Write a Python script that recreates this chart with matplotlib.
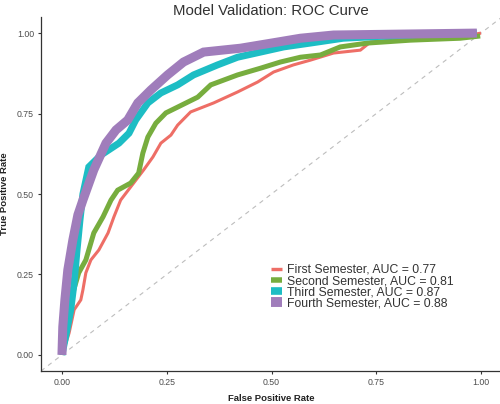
import matplotlib
matplotlib.use("Agg")
import matplotlib.pyplot as plt
from matplotlib.lines import Line2D

# ---- data ----
series_names = ["First Semester", "Second Semester", "Third Semester", "Fourth Semester"]
auc_values = [0.77, 0.81, 0.87, 0.88]

fpr_first = [0.0, 0.012, 0.017, 0.029, 0.045, 0.05, 0.057, 0.069, 0.088, 0.11, 0.124, 0.14,
             0.164, 0.195, 0.217, 0.236, 0.26, 0.276, 0.307, 0.362, 0.419, 0.467, 0.505,
             0.552, 0.593, 0.648, 0.712, 0.736, 0.83, 0.974, 1.0]
tpr_first = [0.0, 0.047, 0.068, 0.14, 0.171, 0.202, 0.255, 0.295, 0.326, 0.379, 0.429, 0.481,
             0.522, 0.575, 0.615, 0.658, 0.683, 0.714, 0.755, 0.783, 0.817, 0.848, 0.879,
             0.901, 0.916, 0.938, 0.947, 0.972, 0.984, 0.994, 1.0]

fpr_second = [0.0, 0.007, 0.021, 0.033, 0.04, 0.057, 0.076, 0.098, 0.117, 0.133, 0.164, 0.183,
              0.193, 0.205, 0.224, 0.248, 0.276, 0.324, 0.355, 0.419, 0.474, 0.521, 0.569,
              0.617, 0.664, 0.729, 0.831, 0.95, 0.998]
tpr_second = [0.0, 0.109, 0.171, 0.224, 0.255, 0.295, 0.379, 0.429, 0.481, 0.512, 0.534, 0.565,
              0.627, 0.677, 0.72, 0.752, 0.77, 0.801, 0.839, 0.87, 0.891, 0.91, 0.925,
              0.932, 0.957, 0.969, 0.978, 0.984, 0.991]

fpr_third = [0.0, 0.012, 0.021, 0.029, 0.036, 0.043, 0.05, 0.064, 0.093, 0.136, 0.16, 0.176,
             0.205, 0.236, 0.276, 0.314, 0.371, 0.419, 0.474, 0.529, 0.593, 0.671, 0.871, 0.99]
tpr_third = [0.0, 0.078, 0.14, 0.224, 0.326, 0.419, 0.5, 0.584, 0.621, 0.658, 0.689, 0.73,
             0.783, 0.814, 0.839, 0.87, 0.901, 0.925, 0.941, 0.957, 0.969, 0.984, 0.997, 1.0]

fpr_fourth = [0.0, 0.002, 0.007, 0.014, 0.026, 0.038, 0.05, 0.076, 0.105, 0.129, 0.157, 0.181,
              0.212, 0.252, 0.29, 0.338, 0.426, 0.514, 0.569, 0.648, 0.99]
tpr_fourth = [0.0, 0.087, 0.171, 0.264, 0.357, 0.435, 0.481, 0.575, 0.658, 0.699, 0.73, 0.783,
              0.823, 0.87, 0.91, 0.941, 0.953, 0.972, 0.984, 0.994, 1.0]

x_ticks = [0.0, 0.25, 0.5, 0.75, 1.0]
y_ticks = [0.0, 0.25, 0.5, 0.75, 1.0]
tick_labels = ["0.00", "0.25", "0.50", "0.75", "1.00"]

# ---- styling ----
colors = ["#EE6E66", "#77AD3E", "#1DBDC4", "#A07DBB"]
widths = [2.2, 3.6, 5.0, 6.5]

plt.rcParams['font.family'] = ['Liberation Sans', 'DejaVu Sans']

W, H = 500, 404
fig = plt.figure(figsize=(W / 100, H / 100), dpi=100)
ax_left, ax_right, ax_top, ax_bottom = 41, 502, 17, 371
ax = fig.add_axes([ax_left / W, (H - ax_bottom) / H, (ax_right - ax_left) / W, (ax_bottom - ax_top) / H])

ax.axline((0, 0), (1, 1), color="#bdbdbd", lw=0.8, ls=(0, (4, 4)), zorder=1)

all_fpr = [fpr_first, fpr_second, fpr_third, fpr_fourth]
all_tpr = [tpr_first, tpr_second, tpr_third, tpr_fourth]
handles = []
for i, (fx, ty) in enumerate(zip(all_fpr, all_tpr)):
    ax.plot(fx, ty, color=colors[i], lw=widths[i], solid_joinstyle='miter',
            solid_capstyle='butt', zorder=2 + i)
    handles.append(Line2D([0], [0], color=colors[i], lw=widths[i] * 1.1, solid_capstyle='butt'))

ax.set_xlim(-0.05, 1.05)
ax.set_ylim(-0.05, 1.05)
ax.set_xticks(x_ticks)
ax.set_xticklabels(tick_labels)
ax.set_yticks(y_ticks)
ax.set_yticklabels(tick_labels)
ax.tick_params(axis='both', labelsize=6.3, colors="#333333", labelcolor="#4d4d4d",
               length=2.5, width=0.8, pad=2.5)
for s in ["top", "right"]:
    ax.spines[s].set_visible(False)
for s in ["left", "bottom"]:
    ax.spines[s].set_color("#333333")
    ax.spines[s].set_linewidth(0.9)

ax.set_xlabel("False Positive Rate", fontsize=6.8, fontweight='bold', color="#222222", labelpad=5)
ax.set_ylabel("True Positive Rate", fontsize=6.8, fontweight='bold', color="#222222", labelpad=6)
fig.suptitle("Model Validation: ROC Curve", x=(ax_left + 500) / 2 / W, y=1 - 4 / H,
             va='top', fontsize=10.8, color="#333333")

labels = [f"{n}, AUC = {a:.2f}" for n, a in zip(series_names, auc_values)]
leg = ax.legend(handles, labels, loc='upper left',
                bbox_to_anchor=((266 - ax_left) / (ax_right - ax_left), (ax_bottom - 259) / (ax_bottom - ax_top)),
                frameon=False, fontsize=8.8, handlelength=0.9, handletextpad=0.45,
                labelspacing=-0.06, borderaxespad=0)
for t in leg.get_texts():
    t.set_color("#333333")

fig.savefig("out.png", dpi=100)
